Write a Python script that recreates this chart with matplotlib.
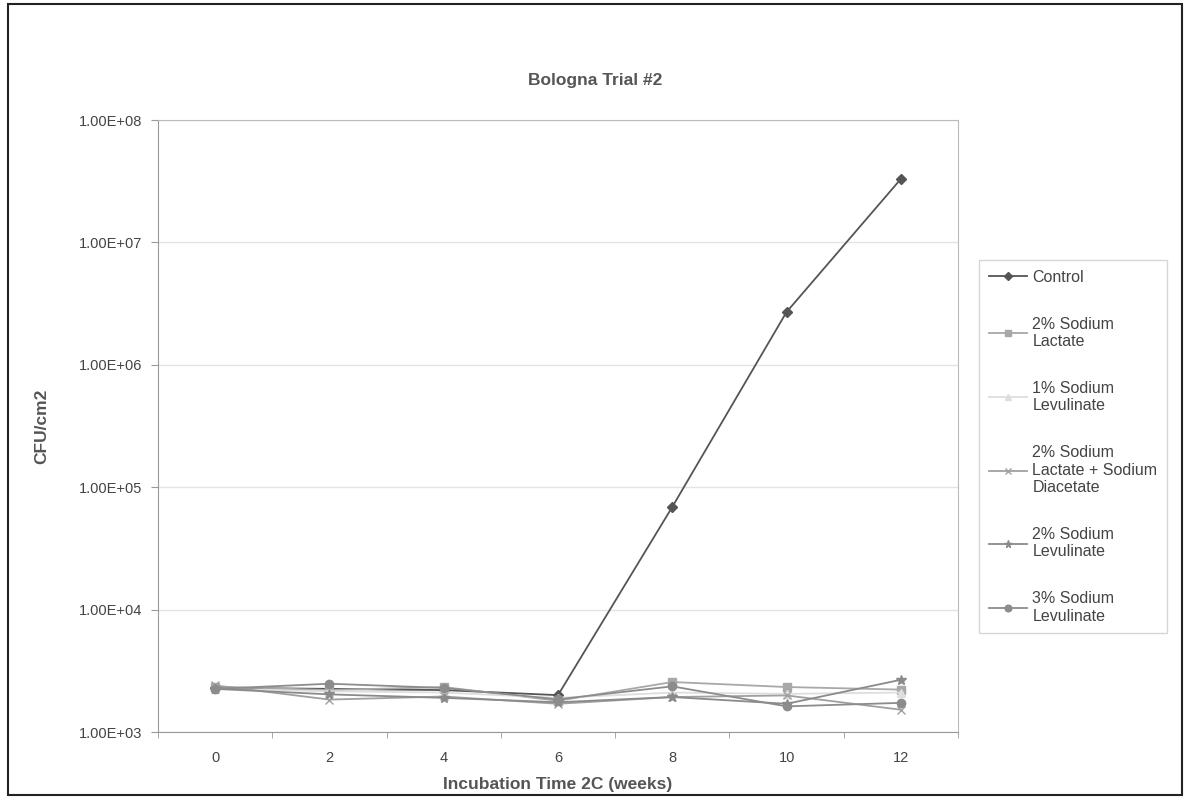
import numpy as np
import matplotlib
matplotlib.use("Agg")
import matplotlib.pyplot as plt
from matplotlib.patches import Rectangle

plt.rcParams['font.family'] = ['Liberation Sans', 'DejaVu Sans']

# Data (CFU/cm2)
weeks = ['0', '2', '4', '6', '8', '10', '12']
control = [2300, 2250, 2200, 2000, 6.9e4, 2.7e6, 3.3e7]
lactate_2 = [2350, 2200, 2330, 1800, 2560, 2330, 2220]
levulinate_1 = [2250, 2150, 2100, 1900, 2100, 2050, 2100]
lactate_diacetate_2 = [2400, 1840, 1950, 1700, 1930, 1990, 1520]
levulinate_2 = [2250, 2030, 1900, 1750, 1930, 1700, 2670]
levulinate_3 = [2250, 2480, 2290, 1850, 2360, 1620, 1730]

labels = ['Control', '2% Sodium\nLactate', '1% Sodium\nLevulinate',
          '2% Sodium\nLactate + Sodium\nDiacetate', '2% Sodium\nLevulinate',
          '3% Sodium\nLevulinate']
series = [control, lactate_2, levulinate_1, lactate_diacetate_2, levulinate_2, levulinate_3]
colors = ['#555555', '#a8a8a8', '#dedede', '#a0a0a0', '#8a8a8a', '#8c8c8c']
markers = ['D', 's', '^', 'x', '*', 'o']
msizes = [5, 6, 6, 6, 7, 6]

fig = plt.figure(figsize=(11.9, 7.99), dpi=100)
ax = fig.add_axes([158/1190, 1 - 732/799, 800/1190, 612/799])

x = np.arange(len(weeks))
handles = []
for vals, lab, c, m, ms in zip(series, labels, colors, markers, msizes):
    h, = ax.plot(x, vals, color=c, marker=m, markersize=ms, linewidth=1.3,
                 markeredgecolor=c, label=lab)
    handles.append(h)

ax.set_yscale('log')
ax.set_ylim(1e3, 1e8)
ax.set_xlim(-0.5, 6.5)
ax.set_yticks([1e3, 1e4, 1e5, 1e6, 1e7, 1e8])
ax.set_yticklabels(['1.00E+03', '1.00E+04', '1.00E+05', '1.00E+06', '1.00E+07', '1.00E+08'])
ax.yaxis.set_minor_locator(matplotlib.ticker.NullLocator())
ax.set_xticks(x)
ax.set_xticklabels(weeks)
ax.set_xticks(np.arange(-0.5, 7, 1), minor=True)
ax.tick_params(axis='x', which='major', length=0, pad=14, labelsize=10.5, colors='#444444')
ax.tick_params(axis='x', which='minor', length=4, color='#999999')
ax.tick_params(axis='y', length=5, color='#999999', labelsize=10.5, colors='#444444', pad=6)
ax.grid(axis='y', which='major', color='#e4e4e4', linewidth=1)
for s in ax.spines.values():
    s.set_color('#bbbbbb')
ax.spines['left'].set_color('#999999')
ax.spines['bottom'].set_color('#999999')

ax.set_xlabel('Incubation Time 2C (weeks)', fontsize=12.5, fontweight='bold', color='#555555', labelpad=8)
ax.set_ylabel('CFU/cm2', fontsize=12.5, fontweight='bold', color='#555555', labelpad=22)
fig.text(0.5, 1 - 80/799, 'Bologna Trial #2', ha='center', va='center',
         fontsize=12.5, fontweight='bold', color='#555555')

leg = fig.legend(handles=handles, loc='upper left',
                 bbox_to_anchor=(971/1190, 1 - 252/799), fontsize=11.5,
                 frameon=True, fancybox=False, edgecolor='#cccccc',
                 labelspacing=2.0, handlelength=2.4, handletextpad=0.35,
                 borderpad=0.6, markerscale=0.8)
for t in leg.get_texts():
    t.set_color('#444444')

fig.patches.append(Rectangle((8/1190, 4/799), 1174/1190, 791/799, transform=fig.transFigure,
                             fill=False, edgecolor='#222222', linewidth=1.5))

fig.savefig('out.png', dpi=100)
